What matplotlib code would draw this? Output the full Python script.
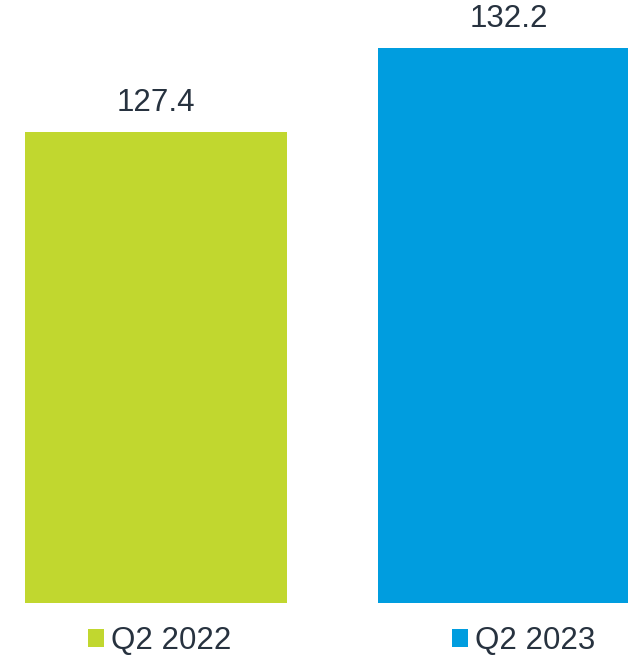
import matplotlib
matplotlib.use("Agg")
import matplotlib.pyplot as plt
from matplotlib.patches import Patch

periods = ["Q2 2022", "Q2 2023"]
values = [127.4, 132.2]
colors = ["#C1D72F", "#009DDF"]
text_color = "#27323F"

plt.rcParams["font.family"] = ["Liberation Sans", "DejaVu Sans"]

fig = plt.figure(figsize=(6.28, 6.57), dpi=100)
ax = fig.add_axes([0, 54 / 657, 1, 603 / 657])

x = list(range(len(values)))
bars = ax.bar(x, values, width=0.742, color=colors)
ax.set_xlim(-0.442, 1.337)
ax.set_ylim(100.5, 134.96)

for b, v in zip(bars, values):
    ax.annotate(f"{v:.1f}", (b.get_x() + b.get_width() / 2, v),
                xytext=(0, 10), textcoords="offset points",
                ha="center", va="bottom", fontsize=22.5, color=text_color)

ax.axis("off")

handles = [Patch(facecolor=c, edgecolor="none") for c in colors]
fig.legend(handles, periods, loc="center left",
           bbox_to_anchor=(88 / 628, 16 / 657), ncol=2, frameon=False,
           fontsize=22.5, labelcolor=text_color, handlelength=0.51,
           handleheight=0.51, handletextpad=0.22, columnspacing=7.07,
           borderpad=0, borderaxespad=0)

fig.savefig("out.png", dpi=100)
